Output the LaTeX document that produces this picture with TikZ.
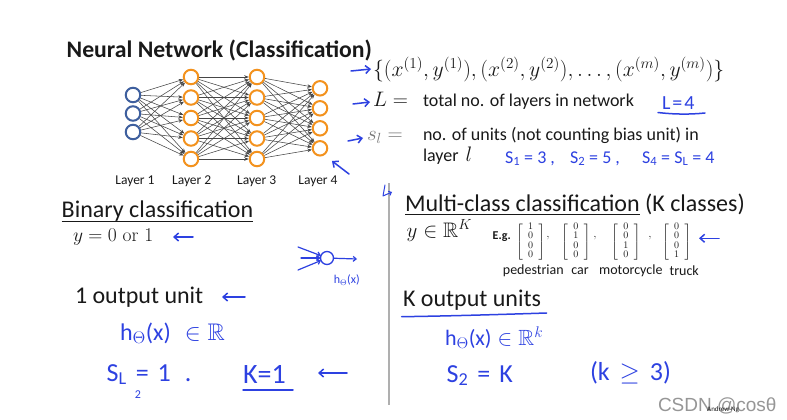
\RequirePackage{fix-cm}
\documentclass[tikz,border=0pt]{standalone}
\usepackage{amsmath,amssymb}
\usepackage[no-math]{fontspec}
\newfontfamily\calib{Carlito}
\newfontfamily\arialf{Liberation Sans}
\usetikzlibrary{arrows.meta}
\definecolor{hblue}{RGB}{45,65,225}
\definecolor{nnblue}{RGB}{62,95,158}
\definecolor{nnorange}{RGB}{243,146,30}
\definecolor{edgegray}{RGB}{70,70,70}
\definecolor{txt}{RGB}{25,25,25}
\definecolor{wm}{RGB}{150,150,150}
\definecolor{divgray}{RGB}{175,175,175}
\definecolor{sgray}{RGB}{120,120,120}
\newcommand\fsz[1]{\fontsize{#1}{#1}\selectfont}
\newcommand\onehot[4]{{\renewcommand\arraystretch{0.92}$\left[\begin{array}{@{\hspace{5.5pt}}c@{\hspace{5.5pt}}}#1\\#2\\#3\\#4\end{array}\right]$}}
\begin{document}
\begin{tikzpicture}[x=1pt,y=-1pt,
  every node/.style={inner sep=0pt,outer sep=0pt},
  slide/.style={font=\calib\fsz{24},text=txt},
  body/.style={font=\calib\fsz{18},text=txt},
  lbl/.style={font=\calib\fsz{13.5},text=txt},
  cls/.style={font=\calib\fsz{14},text=txt},
  hw/.style={text=hblue},
  neuronA/.style={circle,draw=nnblue,line width=2pt,minimum size=14.5pt,outer sep=1pt},
  neuronB/.style={circle,draw=nnorange,line width=2pt,minimum size=14.5pt,outer sep=1pt},
  nnedge/.style={draw=edgegray,line width=0.55pt,-{Stealth[length=4.5pt,width=3.5pt]}},
  hand/.style={draw=hblue,line width=1.5pt,line cap=round,line join=round},
  harrow/.style={hand,-{Straight Barb[length=4.5pt,width=8pt]}},
  uline/.style={draw=txt,line width=1pt},
  divider/.style={draw=divgray,line width=1.6pt}]
\useasboundingbox[fill=white] (0,0) rectangle (787,420);

% ---------- title ----------
\node[font=\calib\bfseries\fsz{23.7},text=txt,anchor=base west] (title) at (66.7,58) {Neural Network (Classification)};

% ---------- network ----------
\foreach \i/\y in {1/95,2/113.5,3/132} \node[neuronA] (a\i) at (133,\y) {};
\foreach \i/\y in {1/77,2/97.5,3/118,4/138.5,5/159} \node[neuronB] (b\i) at (191,\y) {};
\foreach \i/\y in {1/77,2/97.5,3/118,4/138.5,5/159} \node[neuronB] (c\i) at (257,\y) {};
\foreach \i/\y in {1/88.3,2/108.3,3/128.3,4/148.3} \node[neuronB] (d\i) at (320,\y) {};
\foreach \i in {1,...,3} \foreach \j in {1,...,5} \draw[nnedge] (a\i) -- (b\j);
\foreach \i in {1,...,5} \foreach \j in {1,...,5} \draw[nnedge] (b\i) -- (c\j);
\foreach \i in {1,...,5} \foreach \j in {1,...,4} \draw[nnedge] (c\i) -- (d\j);
\node[lbl] (lab1) at (135,181.7) {Layer 1};
\node[lbl] (lab2) at (191.7,181.7) {Layer 2};
\node[lbl] (lab3) at (256.7,181.7) {Layer 3};
\node[lbl] (lab4) at (318,181.7) {Layer 4};
\coordinate (ar4s) at (349,174);
\coordinate (ar4e) at (332,161);
\draw[harrow] (ar4s) -- (ar4e);

% ---------- definitions ----------
\coordinate (a1s) at (351,71); \coordinate (a1e) at (371,69);
\draw[harrow] (a1s) -- (a1e);
\node[anchor=base west,font=\fsz{21.7},text=txt] (data) at (373,76.5) {$\{(x^{(1)},y^{(1)}),(x^{(2)},y^{(2)}),\ldots,(x^{(m)},y^{(m)})\}$};

\coordinate (a2s) at (353,104); \coordinate (a2e) at (370,102);
\draw[harrow] (a2s) -- (a2e);
\node[anchor=base west,font=\fsz{21},text=txt] (Ldef) at (373,106.5) {$L =$};
\node[body,anchor=base west] (Ltxt) at (423,106.5) {total no. of layers in network};
\node[hw,font=\calib\fsz{20},anchor=base west] (L4) at (662,110) {L\hspace{2pt}=\hspace{2pt}4};
\coordinate (L4u1) at (658,112.5); \coordinate (L4u2) at (705,113);
\draw[hand] (L4u1) .. controls (675,114.5) and (690,114.5) .. (L4u2);

\coordinate (a3s) at (348,141); \coordinate (a3e) at (363,138);
\draw[harrow] (a3s) -- (a3e);
\node[anchor=base west,font=\fsz{21},text=sgray] (sdef) at (367,140.5) {$s_l =$};
\node[body,anchor=base west] (stxt) at (423,140.5) {no. of units (not counting bias unit) in};
\node[body,anchor=base west] (stxt2) at (423,161.7) {layer\hspace{7pt}{\fsz{21}$l$}};
\node[hw,font=\calib\fsz{18},anchor=base west] (s1) at (505,163) {S\textsubscript{1} = 3 ,};
\node[hw,font=\calib\fsz{18},anchor=base west] (s2) at (570,163) {S\textsubscript{2} = 5 ,};
\node[hw,font=\calib\fsz{18},anchor=base west] (s4) at (642,163) {S\textsubscript{4} = S\textsubscript{L} = 4};

% ---------- binary ----------
\node[slide,anchor=base west] (bin) at (61.7,217.3) {Binary classification};
\draw[uline] ([yshift=-4.4pt]bin.base west) -- ([yshift=-4.4pt]bin.base east);
\node[anchor=base west,font=\fsz{19.5},text=txt] (yb) at (73,241.5) {$y = 0\ \mathrm{or}\ 1$};
\coordinate (aybs) at (193,237); \coordinate (aybe) at (173,237);
\draw[harrow] (aybs) -- (aybe);

\node[circle,draw=hblue,line width=1.3pt,minimum size=13pt] (hn) at (327,258) {};
\coordinate (in1) at (298,247); \coordinate (in2) at (301,258); \coordinate (in3) at (298,270);
\coordinate (hout) at (357,259);
\draw[harrow,line width=1.2pt,-{Straight Barb[length=3pt,width=5pt]}] (in1) -- (hn);
\draw[harrow,line width=1.2pt,-{Straight Barb[length=3pt,width=5pt]}] (in2) -- (hn);
\draw[harrow,line width=1.2pt,-{Straight Barb[length=3pt,width=5pt]}] (in3) -- (hn);
\draw[harrow,line width=1.2pt,-{Straight Barb[length=3pt,width=5pt]}] (hn) -- (hout);
\node[hw,font=\calib\fsz{12}] (hlab) at (346.7,280) {h\textsubscript{$\Theta$}(x)};

\node[slide,anchor=base west] (one) at (75,303) {1 output unit};
\coordinate (aones) at (245,297); \coordinate (aonee) at (222,297);
\draw[harrow] (aones) -- (aonee);

\node[hw,font=\calib\fsz{24},anchor=base west] (hl) at (120,340) {h\textsubscript{$\Theta$}(x)\hspace{14pt}$\in\mathbb{R}$};
\node[hw,font=\calib\fsz{26},anchor=base west] (sl) at (106.7,381) {S\textsubscript{L}\hspace{9pt}=\hspace{9pt}1\hspace{14pt}.};
\node[hw,font=\calib\fsz{12}] (two) at (138,395) {2};
\node[hw,font=\calib\fsz{28},anchor=base west] (k1) at (243,383) {K=1};
\coordinate (k1u1) at (243,390); \coordinate (k1u2) at (293,390);
\draw[hand] (k1u1) -- (k1u2);
\coordinate (ak1s) at (347,373); \coordinate (ak1e) at (318,373);
\draw[harrow] (ak1s) -- (ak1e);

% ---------- divider ----------
\coordinate (dv1) at (389,183); \coordinate (dv2) at (389,405);
\draw[divider] (dv1) -- (dv2);

% ---------- multi-class ----------
\coordinate (hk1) at (385,185); \coordinate (hk2) at (383,196); \coordinate (hk3) at (392,192);
\draw[hand,line width=1pt,-{Straight Barb[length=2.5pt,width=4.5pt]}] (hk1) -- (hk2) -- (hk3);
\node[slide,anchor=base west] (mc1) at (405,211.5) {Multi-class classification};
\draw[uline] ([yshift=-3pt]mc1.base west) -- ([yshift=-3pt]mc1.base east);
\node[slide,anchor=base west] (mc2) at ([xshift=5.4pt]mc1.base east) {(K classes)};
\node[anchor=base west,font=\fsz{21},text=txt] (yk) at (406.7,237.3) {$y \in \mathbb{R}^K$};
\node[anchor=base west,font=\calib\bfseries\fsz{12},text=txt] (eg) at (492.7,239) {E.g.};
\node[font=\fsz{10},text=txt] (m1) at (530.7,241.7) {\onehot{1}{0}{0}{0}};
\node[font=\fsz{10},text=txt] (m2) at (575.8,241.7) {\onehot{0}{1}{0}{0}};
\node[font=\fsz{10},text=txt] (m3) at (625.8,241.7) {\onehot{0}{0}{1}{0}};
\node[font=\fsz{10},text=txt] (m4) at (676.7,241.7) {\onehot{0}{0}{0}{1}};
\node[font=\fsz{12},text=txt] (cm1) at (548,238) {,};
\node[font=\fsz{12},text=txt] (cm2) at (595,238) {,};
\node[font=\fsz{12},text=txt] (cm3) at (650,238) {,};
\coordinate (amcs) at (719,238.3); \coordinate (amce) at (699,238.3);
\draw[harrow] (amcs) -- (amce);
\node[cls] (pd) at (533.3,270.7) {pedestrian};
\node[cls] (car) at (580,270.7) {car};
\node[cls] (mc) at (630.8,270.7) {motorcycle};
\node[cls] (tr) at (684.2,270.7) {truck};

\node[slide,anchor=base west] (ko) at (403,306.5) {K output units};
\coordinate (ku1) at (401.7,316.7); \coordinate (ku2) at (546.7,313);
\draw[hand] (ku1) .. controls (450,316) and (500,314.5) .. (ku2);
\node[hw,font=\calib\fsz{22},anchor=base west] (hr) at (445,345) {h\textsubscript{$\Theta$}(x)\hspace{6pt}$\in\mathbb{R}^{k}$};
\node[hw,font=\calib\fsz{26},anchor=base west] (s2k) at (446.7,382) {S\textsubscript{2}\hspace{9pt}=\hspace{9pt}K};
\node[hw,font=\calib\fsz{26},anchor=base west] (kge) at (590,380) {(k\hspace{10pt}$\geq$\hspace{10pt}3)};

% ---------- watermark ----------
\node[font=\arialf\fsz{19},text=wm,anchor=base west] (csdn) at (658,411) {CSDN @cosθ};
\node[font=\calib\fsz{7},text=txt] (ang) at (723,410) {Andrew Ng};
\end{tikzpicture}
\end{document}
